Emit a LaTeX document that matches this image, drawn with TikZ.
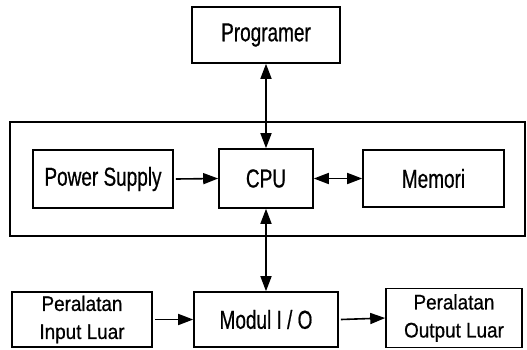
\documentclass[tikz,border=0pt]{standalone}
\usepackage{fontspec}
\setmainfont{Liberation Sans}[FakeStretch=0.73, FakeBold=0.6]
\newfontfamily\pairfont{Liberation Sans}[FakeStretch=0.9, FakeBold=0.6]
\usetikzlibrary{arrows.meta}
\tikzset{
  block/.style={draw, line width=1.6pt, rectangle, inner sep=0pt,
    align=center, font=\fontsize{26}{28}\selectfont},
  twoline/.style={font=\pairfont\fontsize{21}{28}\selectfont},
  link/.style={line width=1.6pt, -{Triangle[length=15pt,width=11pt]}},
  duplex/.style={line width=1.6pt, {Triangle[length=15pt,width=11pt]}-{Triangle[length=15pt,width=11pt]}}
}
\begin{document}
\begin{tikzpicture}[x=1pt, y=-1pt]
  \useasboundingbox (0,0) rectangle (527,349);
  % PLC enclosure
  \node[block, minimum width=515pt, minimum height=114pt] (frame) at (267.5,179) {};
  % blocks
  \node[block, minimum width=148pt, minimum height=56pt] (prog) at (266,35) {Programer};
  \node[block, minimum width=140pt, minimum height=58pt] (ps) at (103,179) {Power Supply};
  \node[block, minimum width=94pt, minimum height=59pt] (cpu) at (266,178.5) {CPU};
  \node[block, minimum width=141pt, minimum height=57pt] (mem) at (433.5,178.5) {Memori};
  \node[block, twoline, minimum width=140pt, minimum height=55pt] (in) at (82,319.5) {Peralatan\\Input Luar};
  \node[block, minimum width=144pt, minimum height=55pt] (io) at (266,319.5) {Modul I / O};
  \node[block, twoline, minimum width=136pt, minimum height=59pt] (out) at (454,318) {Peralatan\\Output Luar};
  % connections
  \draw[duplex] (prog.south) -- (cpu.north);
  \draw[duplex] (cpu.south) -- (io.north);
  \draw[link] ([xshift=2pt]ps.east) -- (cpu.west);
  \draw[duplex] (cpu.east) -- (mem.west);
  \draw[link] ([xshift=2pt]in.east) -- (io.west);
  \draw[link] ([xshift=2pt]io.east) -- (out.west);
\end{tikzpicture}
\end{document}
